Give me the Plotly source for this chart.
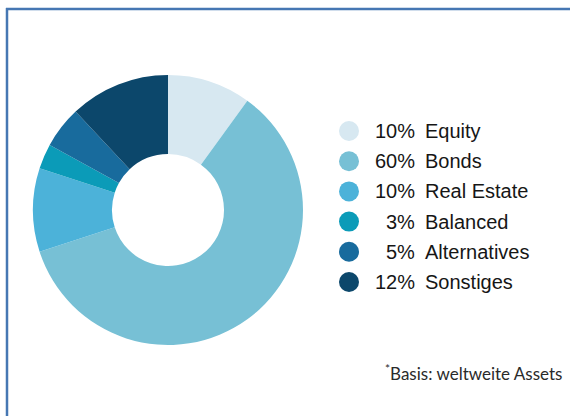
import plotly.graph_objects as go

categories = ["Equity", "Bonds", "Real Estate", "Balanced", "Alternatives", "Sonstiges"]
values = [10, 60, 10, 3, 5, 12]
pct_labels = ["10%", "60%", "10%", "3%", "5%", "12%"]
colors = ["#d7e8f1", "#77c0d5", "#4cb2d9", "#0b9bb8", "#186b9d", "#0c476b"]
footnote = "<sup>*</sup>Basis: weltweite Assets"

W, H = 570, 416
# pie geometry (pixels)
cx, cy, R = 168, 210, 135
# legend layout (pixels)
leg_x, leg_y0, leg_dy = 349, 131, 30.2
pct_end = 417
name_start = 423

fig = go.Figure()
fig.add_trace(go.Pie(
    labels=categories, values=values, sort=False, direction="clockwise", rotation=0,
    hole=0.415, marker=dict(colors=colors, line=dict(width=0)),
    textinfo="none", hoverinfo="label+percent", showlegend=False,
    domain=dict(x=[(cx - R) / W, (cx + R) / W], y=[(H - cy - R) / H, (H - cy + R) / H]),
))

ys = [leg_y0 + i * leg_dy for i in range(len(categories))]
fig.add_trace(go.Scatter(
    x=[leg_x] * len(categories), y=ys, mode="markers",
    marker=dict(size=20, color=colors, line=dict(width=0)),
    showlegend=False, hoverinfo="skip",
))

font_main = dict(family="Liberation Sans, Arial, sans-serif", size=20, color="#161616")
annotations = []
for y, p, n in zip(ys, pct_labels, categories):
    annotations.append(dict(x=pct_end, y=y, xref="x", yref="y", text=p, showarrow=False,
                            xanchor="right", yanchor="middle", font=font_main))
    annotations.append(dict(x=name_start, y=y, xref="x", yref="y", text=n, showarrow=False,
                            xanchor="left", yanchor="middle", font=font_main))
annotations.append(dict(x=564, y=372, xref="x", yref="y", text=footnote, showarrow=False,
                        xanchor="right", yanchor="middle",
                        font=dict(family="Lato, sans-serif", size=17, color="#2a2a2a")))

fig.update_layout(
    width=W, height=H, margin=dict(l=0, r=0, t=0, b=0),
    paper_bgcolor="white", plot_bgcolor="rgba(0,0,0,0)",
    xaxis=dict(range=[0, W], visible=False, fixedrange=True),
    yaxis=dict(range=[H, 0], visible=False, fixedrange=True),
    annotations=annotations,
    shapes=[
        dict(type="line", xref="x", yref="y", x0=6, x1=W, y0=9, y1=9,
             line=dict(color="#4677b3", width=2.5)),
        dict(type="line", xref="x", yref="y", x0=7, x1=7, y0=8, y1=H,
             line=dict(color="#4677b3", width=2.5)),
    ],
)

fig.write_html("out.html", config={"displayModeBar": False},
               post_script="document.body.style.margin='0';document.body.style.overflow='hidden';")
